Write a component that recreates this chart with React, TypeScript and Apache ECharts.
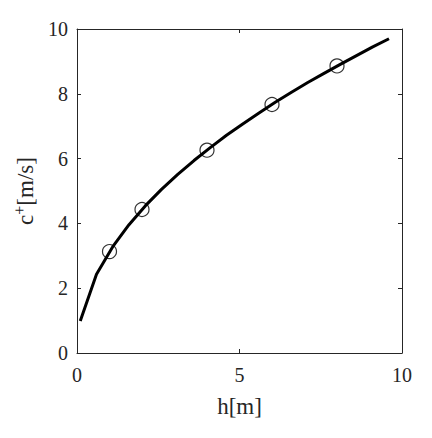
import React, { useEffect, useRef } from "react";
import * as echarts from "echarts";

const curveH = [0.1, 0.6, 1.1, 1.6, 2.1, 2.6, 3.1, 3.6, 4.1, 4.6, 5.1, 5.6, 6.1, 6.6, 7.1, 7.6, 8.1, 8.6, 9.1, 9.6];
const curveC = [0.99, 2.43, 3.28, 3.96, 4.54, 5.05, 5.51, 5.94, 6.34, 6.72, 7.07, 7.41, 7.74, 8.05, 8.35, 8.63, 8.91, 9.18, 9.45, 9.7];
const markerH = [1, 2, 4, 6, 8];
const markerC = [3.13, 4.43, 6.26, 7.67, 8.86];
const xTicks = [0, 5, 10];
const yTicks = [0, 2, 4, 6, 8, 10];

const FONT = "Liberation Serif";
const INK = "#262626";

export default function App() {
  const ref = useRef<HTMLDivElement>(null);
  useEffect(() => {
    if (!ref.current) return;
    const chart = echarts.init(ref.current, undefined, { renderer: "svg" });
    const baseAxis = {
      axisLine: { show: true, onZero: false, lineStyle: { color: INK, width: 1 } },
      axisTick: { show: true, inside: true, length: 4, lineStyle: { color: INK, width: 1 } },
      splitLine: { show: false },
    };
    chart.setOption({
      animation: false,
      backgroundColor: "#ffffff",
      textStyle: { fontFamily: FONT },
      grid: { left: 77, top: 29, width: 325, height: 324, containLabel: false },
      xAxis: [
        {
          ...baseAxis,
          type: "value",
          min: 0,
          max: 10,
          interval: 5,
          position: "bottom",
          name: "h[m]",
          nameLocation: "middle",
          nameGap: 42,
          nameTextStyle: { fontFamily: FONT, fontSize: 23, color: INK },
          axisLabel: {
            margin: 12,
            fontFamily: FONT,
            fontSize: 20,
            color: INK,
            formatter: (v: number) => (xTicks.includes(v) ? String(v) : ""),
          },
        },
        {
          ...baseAxis,
          type: "value",
          min: 0,
          max: 10,
          interval: 5,
          position: "top",
          axisLabel: { show: false },
        },
      ],
      yAxis: [
        {
          ...baseAxis,
          type: "value",
          min: 0,
          max: 10,
          interval: 2,
          position: "left",
          name: "{a|c}{b|+}{a|[m/s]}",
          nameLocation: "middle",
          nameGap: 35,
          nameRotate: 90,
          nameTextStyle: {
            fontFamily: FONT,
            rich: {
              a: { fontFamily: FONT, fontSize: 23, color: INK },
              b: { fontFamily: FONT, fontSize: 16, color: INK, verticalAlign: "top", padding: [0, 0, 12, 0] },
            },
          },
          axisLabel: {
            margin: 9,
            fontFamily: FONT,
            fontSize: 20,
            color: INK,
            formatter: (v: number) => (yTicks.includes(v) ? String(v) : ""),
          },
        },
        {
          ...baseAxis,
          type: "value",
          min: 0,
          max: 10,
          interval: 2,
          position: "right",
          axisLabel: { show: false },
        },
      ],
      series: [
        {
          type: "line",
          data: curveH.map((h, i) => [h, curveC[i]]),
          showSymbol: false,
          symbol: "none",
          lineStyle: { color: "#000000", width: 3 },
          z: 2,
        },
        {
          type: "scatter",
          data: markerH.map((h, i) => [h, markerC[i]]),
          symbol: "circle",
          symbolSize: 14,
          itemStyle: { color: "rgba(0,0,0,0)", borderColor: "#000000", borderWidth: 1.2 },
          z: 3,
        },
      ],
    });
    return () => chart.dispose();
  }, []);
  return (
    <div
      ref={ref}
      style={{ position: "fixed", left: 0, top: 0, width: 432, height: 438, background: "#fff" }}
    />
  );
}
